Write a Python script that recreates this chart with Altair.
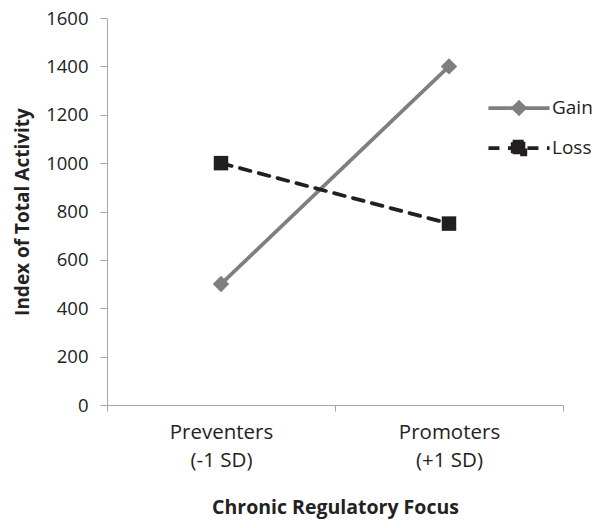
import altair as alt
import pandas as pd

# ---- data ----
focus = ["Preventers\n(-1 SD)", "Promoters\n(+1 SD)"]
series = ["Gain", "Loss"]
gain_values = [500, 1400]
loss_values = [1000, 750]
y_ticks = [0, 200, 400, 600, 800, 1000, 1200, 1400, 1600]

# ---- styles ----
colors = ["#7f7f7f", "#231f20"]
dashes = [[1, 0], [11, 8.5]]
marker_shapes = ["diamond", "square"]
marker_sizes = [270, 210]
legend_paths = [
    "M-1.64,0L1.64,0M0,-0.3L0.3,0L0,0.3L-0.3,0Z",
    "M-1.64,0L1.64,0M-0.34,-0.34L0.34,-0.34L0.34,0.34L-0.34,0.34Z",
]
FONT = "Open Sans"
TXT = "#222222"
AX = "#a6a6a6"

rows = []
for s, vals in zip(series, [gain_values, loss_values]):
    for f, v in zip(focus, vals):
        rows.append({"focus": f, "series": s, "value": v})
df = pd.DataFrame(rows)

shape_expr = f"datum.value === '{series[0]}' ? '{legend_paths[0]}' : '{legend_paths[1]}'"
fill_expr = f"datum.value === '{series[0]}' ? '{colors[0]}' : '{colors[1]}'"

x_enc = alt.X(
    "focus:N",
    sort=focus,
    scale=alt.Scale(type="band", paddingInner=0, paddingOuter=0),
    axis=alt.Axis(
        title="Chronic Regulatory Focus",
        labelAngle=0,
        tickBand="extent",
        tickSize=6,
        tickColor=AX,
        domainColor=AX,
        labelFont=FONT,
        labelFontSize=20.5,
        labelColor=TXT,
        labelLineHeight=28,
        labelPadding=11,
        labelExpr="split(datum.label, '\\n')",
        titleFont=FONT,
        titleFontSize=19.5,
        titleFontWeight="bold",
        titleColor=TXT,
        titlePadding=28,
    ),
)
y_enc = alt.Y(
    "value:Q",
    scale=alt.Scale(domain=[0, 1600], nice=False),
    axis=alt.Axis(
        values=y_ticks,
        format="d",
        title="Index of Total Activity",
        grid=False,
        tickSize=7,
        tickColor=AX,
        domainColor=AX,
        labelFont=FONT,
        labelFontSize=18.5,
        labelColor=TXT,
        labelPadding=12,
        titleFont=FONT,
        titleFontSize=19,
        titleFontWeight="bold",
        titleColor=TXT,
        titlePadding=13,
    ),
)

legend = alt.Legend(
    title=None,
    orient="none",
    legendX=391,
    legendY=69,
    padding=0,
    rowPadding=5,
    symbolSize=1388,
    symbolStrokeWidth=3.75,
    symbolType={"expr": shape_expr},
    symbolFillColor={"expr": fill_expr},
    symbolOpacity=1,
    labelOffset=12,
    labelFont=FONT,
    labelFontSize=19,
    labelColor=TXT,
)

lines = alt.Chart(df).mark_line(strokeWidth=3.75, strokeCap="round").encode(
    x=x_enc,
    y=y_enc,
    color=alt.Color(
        "series:N",
        scale=alt.Scale(domain=series, range=colors),
        legend=legend,
    ),
    strokeDash=alt.StrokeDash(
        "series:N",
        scale=alt.Scale(domain=series, range=dashes),
        legend=legend,
    ),
)

point_layers = []
for s, c, shp, sz in zip(series, colors, marker_shapes, marker_sizes):
    point_layers.append(
        alt.Chart(df)
        .transform_filter(alt.datum.series == s)
        .mark_point(filled=True, opacity=1, strokeWidth=0, shape=shp, size=sz, fill=c)
        .encode(x=alt.X("focus:N", sort=focus), y=alt.Y("value:Q"))
    )

chart = (
    alt.layer(lines, *point_layers)
    .properties(
        width=456,
        height=387,
        autosize=alt.AutoSizeParams(type="none"),
        padding={"left": 99, "top": 10, "right": 30, "bottom": 115},
    )
    .configure_view(stroke=None)
)

chart.save("out.html", embed_options={"renderer": "svg", "actions": False})
